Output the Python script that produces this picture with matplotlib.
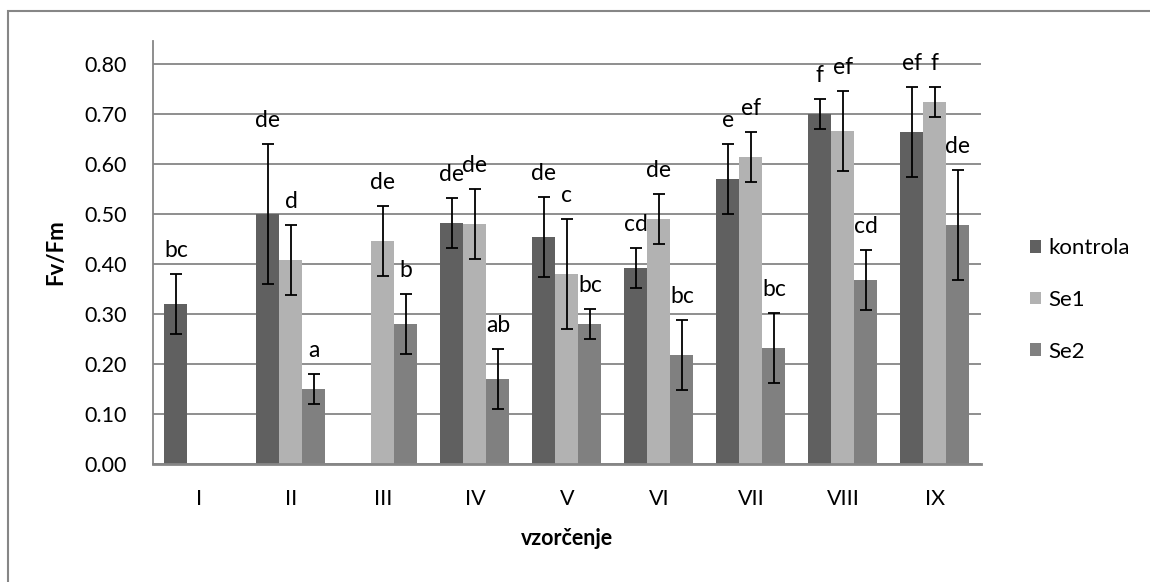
import matplotlib
matplotlib.use("Agg")
import matplotlib.pyplot as plt
from matplotlib.patches import Rectangle
import numpy as np

plt.rcParams['font.family'] = ['Lato', 'DejaVu Sans']

categories = ["I", "II", "III", "IV", "V", "VI", "VII", "VIII", "IX"]
series = ["kontrola", "Se1", "Se2"]

kontrola = [0.32, 0.50, np.nan, 0.482, 0.454, 0.392, 0.57, 0.70, 0.664]
se1 = [np.nan, 0.408, 0.446, 0.48, 0.38, 0.49, 0.614, 0.666, 0.724]
se2 = [np.nan, 0.15, 0.28, 0.17, 0.28, 0.218, 0.232, 0.368, 0.478]

kontrola_err = [0.06, 0.14, np.nan, 0.05, 0.08, 0.04, 0.07, 0.03, 0.09]
se1_err = [np.nan, 0.07, 0.07, 0.07, 0.11, 0.05, 0.05, 0.08, 0.03]
se2_err = [np.nan, 0.03, 0.06, 0.06, 0.03, 0.07, 0.07, 0.06, 0.11]

kontrola_lbl = ["bc", "de", "", "de", "de", "cd", "e", "f", "ef"]
se1_lbl = ["", "d", "de", "de", "c", "de", "ef", "ef", "f"]
se2_lbl = ["", "a", "b", "ab", "bc", "bc", "bc", "cd", "de"]

values = [kontrola, se1, se2]
errors = [kontrola_err, se1_err, se2_err]
letters = [kontrola_lbl, se1_lbl, se2_lbl]
colors = ["#606060", "#b2b2b2", "#808080"]

fig = plt.figure(figsize=(11.5, 5.82), dpi=100)
ax = fig.add_axes([0.133, 0.2027, 0.72, 0.7269])

x = np.arange(len(categories))
w = 0.25
grid_col = "#868686"

for i in range(3):
    pos = x + (i - 1) * w
    ax.bar(pos, values[i], w, color=colors[i], label=series[i], zorder=2)
    ax.errorbar(pos, values[i], yerr=errors[i], fmt="none", ecolor="black",
                elinewidth=1.3, capsize=4.3, capthick=1.3, zorder=3)
    for p, v, e, t in zip(pos, values[i], errors[i], letters[i]):
        if t and not np.isnan(v):
            ax.text(p, v + e + 0.047, t, ha="center", va="center", fontsize=16.5)

ax.set_xlim(-0.5, len(categories) - 0.5)
ax.set_ylim(0, 0.846)
ax.set_yticks(np.arange(0, 0.81, 0.1))
ax.set_yticklabels([f"{t:.2f}" for t in np.arange(0, 0.81, 0.1)])
ax.set_xticks(x)
ax.set_xticklabels(categories)
ax.tick_params(axis="both", length=0, labelsize=15.5)
ax.tick_params(axis="y", pad=19)
ax.tick_params(axis="x", pad=18)

ax.yaxis.grid(True, color=grid_col, linewidth=1.3, zorder=0)
ax.set_axisbelow(True)
for s in ["top", "right"]:
    ax.spines[s].set_visible(False)
ax.spines["left"].set_color(grid_col)
ax.spines["left"].set_linewidth(1.3)
ax.spines["bottom"].set_color(grid_col)
ax.spines["bottom"].set_linewidth(2)

ax.set_ylabel("Fv/Fm", fontsize=16, fontweight="bold", labelpad=13)
ax.set_xlabel("vzorčenje", fontsize=15.5, fontweight="bold", labelpad=14)

leg = fig.legend(loc="center left", bbox_to_anchor=(0.878, 0.4845), frameon=False,
                 fontsize=16, handlelength=0.5, handleheight=0.5,
                 handletextpad=0.35, labelspacing=1.42)

# outer chart border (only top and left visible in the reference)
fig.patches.append(Rectangle((8 / 1150, -0.1), 1.2, (582 - 11) / 582 + 0.1,
                             transform=fig.transFigure, fill=False,
                             edgecolor=grid_col, linewidth=1.5))

fig.savefig("out.png", dpi=100)
